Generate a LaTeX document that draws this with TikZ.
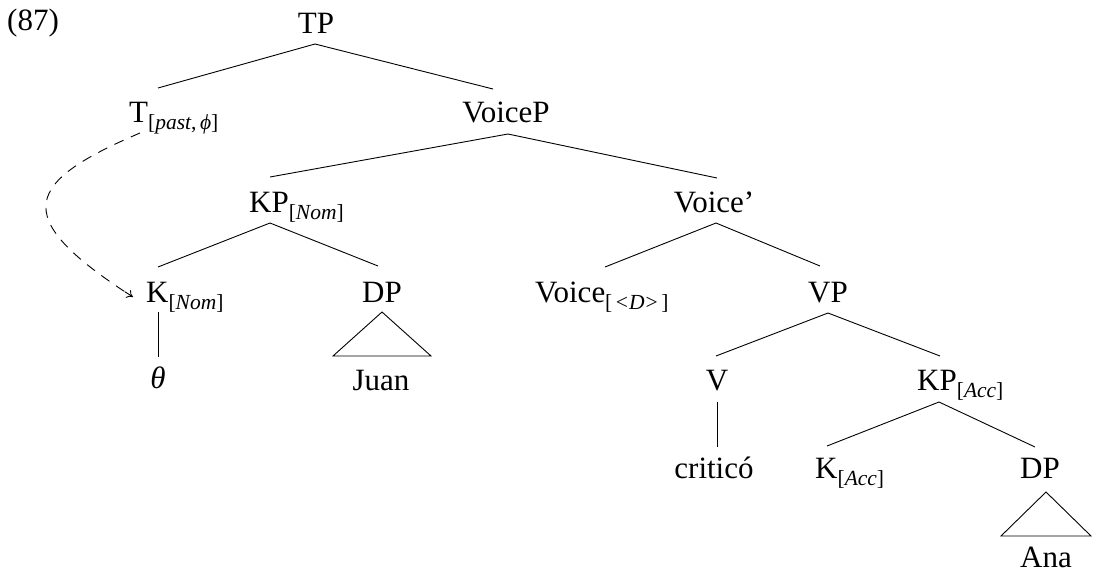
\documentclass[tikz,border=0pt]{standalone}
\usepackage{fontspec}
\setmainfont{Liberation Serif}
\usetikzlibrary{arrows.meta}
\newcommand\subx[1]{\raisebox{-7pt}{\fontsize{21.5}{21.5}\selectfont #1}}
\tikzset{
  lab/.style={anchor=base, inner sep=0pt, font=\fontsize{31}{34}\selectfont},
  labw/.style={lab, anchor=base west},
  edge/.style={line width=0.9pt},
  dep/.style={line width=0.9pt, dash pattern=on 10pt off 8pt},
  deptip/.style={line width=0.9pt, -{To[length=6pt,width=9pt]}},
}
\begin{document}
\begin{tikzpicture}[x=1pt,y=-1pt]
\useasboundingbox (0,0) rectangle (1094,573);
% labels
\node[labw] (ex) at (7,30) {(87)};
\node[lab] (TP) at (316,33) {TP};
\node[labw] (T) at (129,122) {T\subx{[\textit{past},\,\textit{ϕ}]}};
\node[lab] (VoiceP) at (506,122) {VoiceP};
\node[labw] (KPn) at (249,212) {KP\subx{[\textit{Nom}]}};
\node[lab] (Voicebar) at (714,212) {Voice’};
\node[labw] (Kn) at (146,302) {K\subx{[\textit{Nom}]}};
\node[lab] (DPn) at (382,302) {DP};
\node[labw] (Voice) at (535,302) {Voice\subx{[\,<\kern1pt\textit{D}\kern1pt>\,]}};
\node[lab] (VP) at (828,302) {VP};
\node[lab] (theta) at (158,388) {\textit{θ}};
\node[lab] (Juan) at (381,390) {Juan};
\node[lab] (V) at (717,390) {V};
\node[labw] (KPa) at (917,390) {KP\subx{[\textit{Acc}]}};
\node[lab] (crit) at (714,478) {criticó};
\node[labw] (Ka) at (815,478) {K\subx{[\textit{Acc}]}};
\node[lab] (DPa) at (1040,478) {DP};
\node[lab] (Ana) at (1046,567) {Ana};
% attach points
\coordinate (TP-a) at (315,44);
\coordinate (T-t) at (158,88);
\coordinate (VoiceP-t) at (493,89);
\coordinate (VoiceP-a) at (508,134);
\coordinate (KPn-t) at (270,177);
\coordinate (Voicebar-t) at (717,178);
\coordinate (KPn-a) at (270,223);
\coordinate (Kn-t) at (158,267);
\coordinate (DPn-t) at (378,266);
\coordinate (Voicebar-a) at (716,223);
\coordinate (Voice-t) at (605,267);
\coordinate (VP-t) at (820,266);
\coordinate (VP-a) at (828,313);
\coordinate (V-t) at (716,356);
\coordinate (KPa-t) at (940,356);
\coordinate (V-b) at (717,402);
\coordinate (crit-t) at (717,447);
\coordinate (Kn-b) at (158,312);
\coordinate (theta-t) at (158,357);
\coordinate (KPa-a) at (939,402);
\coordinate (Ka-t) at (827,446);
\coordinate (DPa-t) at (1035,447);
\coordinate (T-s) at (140,133);
\coordinate (Kn-w) at (133,297);
\coordinate (Kn-w0) at (125,291.8);
% edges
\draw[edge] (T-t) -- (TP-a) -- (VoiceP-t);
\draw[edge] (KPn-t) -- (VoiceP-a) -- (Voicebar-t);
\draw[edge] (Kn-t) -- (KPn-a) -- (DPn-t);
\draw[edge] (Voice-t) -- (Voicebar-a) -- (VP-t);
\draw[edge] (V-t) -- (VP-a) -- (KPa-t);
\draw[edge] (V-b) -- (crit-t);
\draw[edge] (Kn-b) -- (theta-t);
\draw[edge] (Ka-t) -- (KPa-a) -- (DPa-t);
% triangles
\draw[edge, line join=miter] (382,312) -- (333,356) -- (431,356) -- cycle;
\draw[edge, line join=miter] (1046,492) -- (1001,536) -- (1091,536) -- cycle;
% dependency arrow
\draw[dep] (T-s) .. controls (25,182) and (10,216) .. (Kn-w0);
\draw[deptip] (Kn-w0) -- (Kn-w);
\end{tikzpicture}
\end{document}
